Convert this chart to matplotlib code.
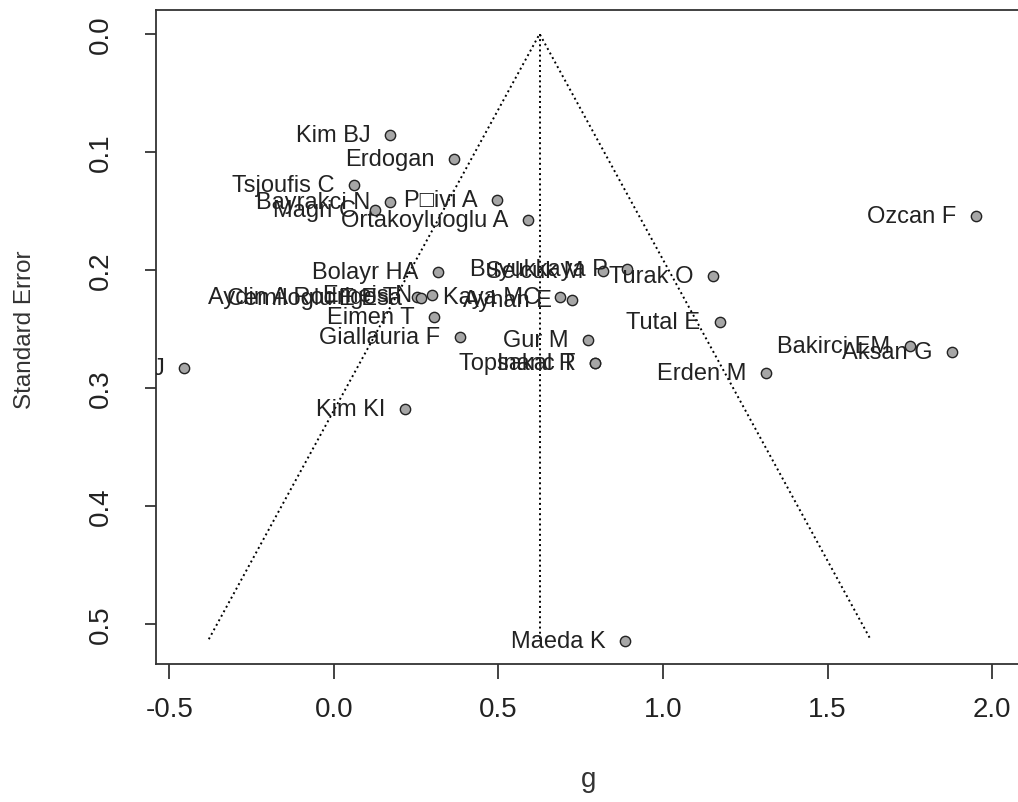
import matplotlib
matplotlib.use('Agg')
import matplotlib.pyplot as plt

# Funnel plot data (effect size g, standard error)
studies = ["Kim BJ", "Erdogan", "Tsjoufis C", "Bayrakci N", "Magri C",
           "P\u25a1ivi A", "Ortakoyluoglu A", "Ozcan F", "Bolayr HA",
           "Selcuk M", "Buyukkaya P", "Turak O", "Aydin A Rodrigo T",
           "Cemiloglu E Esa", "Emeis N", "Kaya MC", "Ayhan E", "Eimen T",
           "Giallauria F", "Gur M", "Topsakal R", "Inanc T", "Tutal E",
           "Lee J", "Bakirci EM", "Aksan G", "Erden M", "Kim KI", "Maeda K"]
g = [0.170, 0.365, 0.061, 0.170, 0.125,
     0.495, 0.590, 1.951, 0.316,
     0.818, 0.891, 1.152, 0.252,
     0.265, 0.298, 0.687, 0.723, 0.304,
     0.383, 0.772, 0.793, 0.793, 1.173,
     -0.456, 1.751, 1.878, 1.313, 0.216, 0.884]
se = [0.0856, 0.1059, 0.1280, 0.1424, 0.1492,
      0.1407, 0.1576, 0.1542, 0.2017,
      0.2008, 0.1992, 0.2051, 0.2229,
      0.2240, 0.2212, 0.2229, 0.2254, 0.2398,
      0.2568, 0.2593, 0.2788, 0.2788, 0.2441,
      0.2831, 0.2644, 0.2695, 0.2873, 0.3178, 0.5144]

estimate = 0.625
se_max = 0.513

plt.rcParams['font.family'] = ['Liberation Sans', 'DejaVu Sans']

fig = plt.figure(figsize=(10.18, 8.03), dpi=100)
ax = fig.add_axes([156 / 1018, 1 - 665 / 803, 1 - 156 / 1018, (665 - 11) / 803])

# funnel and pooled estimate
ax.plot([estimate - 1.96 * se_max, estimate, estimate + 1.96 * se_max],
        [se_max, 0, se_max], linestyle=':', color='black', linewidth=1.4)
ax.plot([estimate, estimate], [0, se_max], linestyle=':', color='black', linewidth=1.4)

ax.scatter(g, se, s=55, facecolor='#a6a6a6', edgecolor='#222222', linewidth=1.0, zorder=3)
for name, x, y in zip(studies, g, se):
    t = ax.annotate(name, (x, y), xytext=(-14, 0), textcoords='offset points',
                    ha='right', va='center', fontsize=17, color='#222222', zorder=4)
    t.set_clip_path(ax.patch)

ax.set_xlim(-0.541, 2.079)
ax.set_ylim(0.534, -0.0203)
ax.set_xticks([-0.5, 0.0, 0.5, 1.0, 1.5, 2.0])
ax.set_xticklabels(['-0.5', '0.0', '0.5', '1.0', '1.5', '2.0'])
ax.set_yticks([0.0, 0.1, 0.2, 0.3, 0.4, 0.5])
ax.set_yticklabels(['0.0', '0.1', '0.2', '0.3', '0.4', '0.5'], rotation=90, va='center')
ax.tick_params(axis='x', length=11, width=1.2, labelsize=20, pad=12, colors='#222222')
ax.tick_params(axis='y', length=8, width=1.2, labelsize=20, pad=22, colors='#222222')
ax.spines['right'].set_visible(False)
for s in ['left', 'top', 'bottom']:
    ax.spines[s].set_linewidth(1.3)
    ax.spines[s].set_color('#333333')

fig.text(25 / 1018, 1 - 330 / 803, 'Standard Error', rotation=90, ha='center', va='center',
         fontsize=17.5, color='#333333')
fig.text(589 / 1018, 1 - 780 / 803, 'g', ha='center', va='center', fontsize=20, color='#333333')

plt.savefig('out.png', dpi=100)
